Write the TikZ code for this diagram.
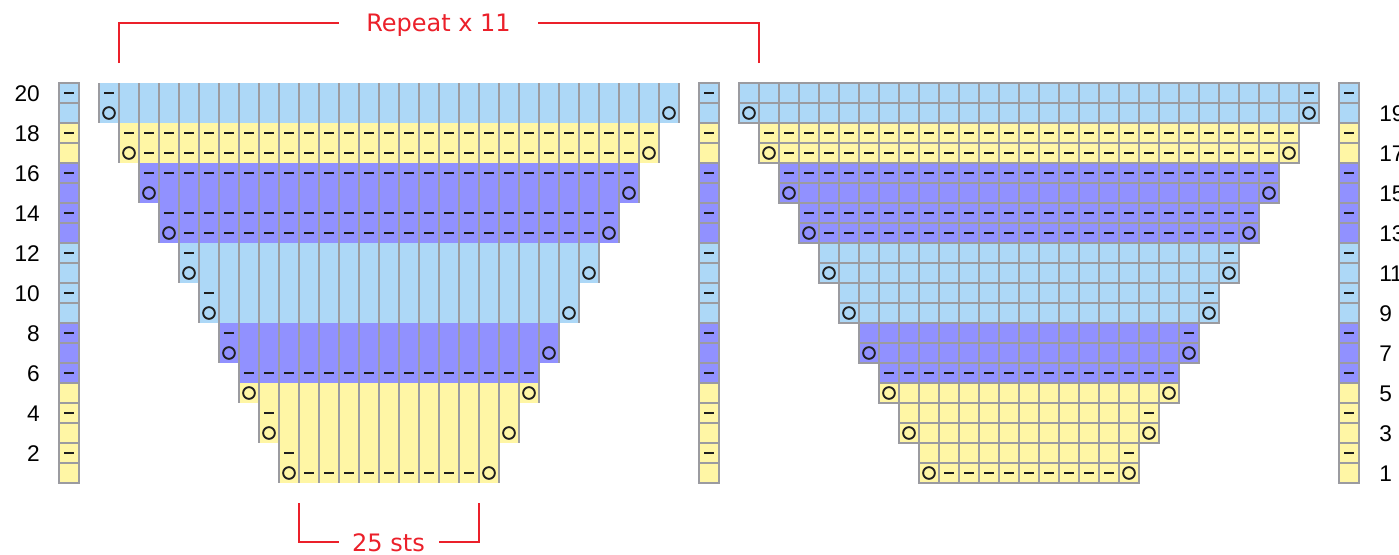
\documentclass[tikz,border=0pt]{standalone}
\usepackage{fontspec}
\setmainfont{Liberation Sans}
\newfontfamily\notefont{DejaVu Sans}

\definecolor{kblue}{RGB}{173,216,247}
\definecolor{kyel}{RGB}{255,246,165}
\definecolor{kpur}{RGB}{145,145,255}
\definecolor{kline}{RGB}{155,155,160}
\definecolor{kink}{RGB}{30,30,30}
\definecolor{kred}{RGB}{235,32,42}

% row / colour / stitch pattern (0 lone purl, 1 yarn-overs, 2 all purl, 3 yarn-overs with purls between)
\def\rowspec{20/kblue/0,19/kblue/1,18/kyel/2,17/kyel/3,16/kpur/2,15/kpur/1,14/kpur/2,13/kpur/3,
  12/kblue/0,11/kblue/1,10/kblue/0,9/kblue/1,8/kpur/0,7/kpur/1,6/kpur/2,5/kyel/1,4/kyel/0,3/kyel/1,2/kyel/0,1/kyel/3}

\newcommand\purlmark[2]{\draw[purlst] ({#1-5},{#2}) -- ({#1+5},{#2});}
\newcommand\yomark[2]{\draw[yost] ({#1},{#2}) circle[radius=4.4pt];}

% #1 left edge of the widest rows, #2 side of the lone purl (0 left, 1 right),
% #3 full cell grid (1) or column lines only (0)
\newcommand\knitchart[3]{%
  \foreach \rw/\rcol/\rtype in \rowspec {
    \pgfmathtruncatemacro\kk{(20-\rw)/2}
    \pgfmathsetmacro\xa{#1+20*\kk}
    \pgfmathsetmacro\ya{83+(20-\rw)*20}
    \pgfmathtruncatemacro\nc{29-2*\kk}
    \fill[\rcol] (\xa,\ya) rectangle ++({20*\nc},20);
  }
  \foreach \rw/\rcol/\rtype in \rowspec {
    \pgfmathtruncatemacro\kk{(20-\rw)/2}
    \pgfmathsetmacro\xa{#1+20*\kk}
    \pgfmathsetmacro\ya{83+(20-\rw)*20}
    \pgfmathtruncatemacro\nc{29-2*\kk}
    \pgfmathtruncatemacro\nm{\nc-1}
    \ifnum#3=1\relax
      \foreach \i in {0,...,\nm} {\draw[kgrid] ({\xa+20*\i},\ya) rectangle ++(20,20);}
    \else
      \foreach \i in {0,...,\nc} {\draw[kgrid] ({\xa+20*\i},\ya) -- ++(0,20);}
    \fi
  }
  \foreach \rw/\rcol/\rtype in \rowspec {
    \pgfmathtruncatemacro\kk{(20-\rw)/2}
    \pgfmathsetmacro\xa{#1+20*\kk}
    \pgfmathsetmacro\ym{93+(20-\rw)*20}
    \pgfmathtruncatemacro\nc{29-2*\kk}
    \pgfmathtruncatemacro\nm{\nc-1}
    \pgfmathsetmacro\xb{\xa+20*\nc}
    \ifcase\rtype\relax
      \ifnum#2=0\relax \purlmark{\xa+10}{\ym}\else \purlmark{\xb-10}{\ym}\fi
    \or
      \yomark{\xa+10}{\ym}\yomark{\xb-10}{\ym}
    \or
      \foreach \i in {1,...,\nc} {\purlmark{\xa+20*\i-10}{\ym}}
    \or
      \yomark{\xa+10}{\ym}\yomark{\xb-10}{\ym}
      \foreach \i in {2,...,\nm} {\purlmark{\xa+20*\i-10}{\ym}}
    \fi
  }
}

\begin{document}
\begin{tikzpicture}[x=0.75pt,y=-0.75pt,
  kgrid/.style={draw=kline,line width=0.9pt},
  purlst/.style={draw=kink,line width=1.65pt},
  yost/.style={draw=kink,line width=1.4pt},
  rowlab/.style={font=\fontsize{17}{19}\selectfont,inner sep=0pt},
  note/.style={font=\notefont\fontsize{18}{20}\selectfont,text=kred,inner sep=0pt},
  bracket/.style={draw=kred,line width=1.6pt}]
\useasboundingbox (0,0) rectangle (1399,554);

% the two charts
\knitchart{99}{0}{0}
\knitchart{739}{1}{1}

% single-stitch edge columns
\foreach \sx in {59,699,1339} {
  \foreach \rw/\rcol/\rtype in \rowspec {
    \pgfmathsetmacro\ya{83+(20-\rw)*20}
    \fill[\rcol] (\sx,\ya) rectangle ++(20,20);
  }
  \foreach \rw in {1,...,20} {
    \pgfmathsetmacro\ya{83+(20-\rw)*20}
    \draw[kgrid] (\sx,\ya) rectangle ++(20,20);
  }
  \foreach \rw in {2,4,...,20} {
    \pgfmathsetmacro\ym{93+(20-\rw)*20}
    \purlmark{\sx+10}{\ym}
  }
}

% row numbers
\foreach \rw in {2,4,...,20} {
  \pgfmathsetmacro\yb{101.5+(20-\rw)*20}
  \node[rowlab,anchor=base east] (lab\rw) at (40,\yb) {\rw};
}
\foreach \rw in {1,3,...,19} {
  \pgfmathsetmacro\yb{101.5+(20-\rw)*20}
  \node[rowlab,anchor=base west] (lab\rw) at (1379,\yb) {\rw};
}

% repeat bracket
\node[note,anchor=base] (rep) at (438.5,31.5) {Repeat x 11};
\coordinate (repL) at (119,63);
\coordinate (repLe) at (339,23);
\coordinate (repR) at (759,63);
\coordinate (repRe) at (538,23);
\draw[bracket] (repL) |- (repLe);
\draw[bracket] (repR) |- (repRe);

% stitch-count bracket
\node[note,anchor=base] (sts) at (388.5,551.5) {25 sts};
\coordinate (stsL) at (299,503);
\coordinate (stsLe) at (339,542);
\coordinate (stsR) at (479,503);
\coordinate (stsRe) at (439,542);
\draw[bracket] (stsL) |- (stsLe);
\draw[bracket] (stsR) |- (stsRe);
\end{tikzpicture}
\end{document}
